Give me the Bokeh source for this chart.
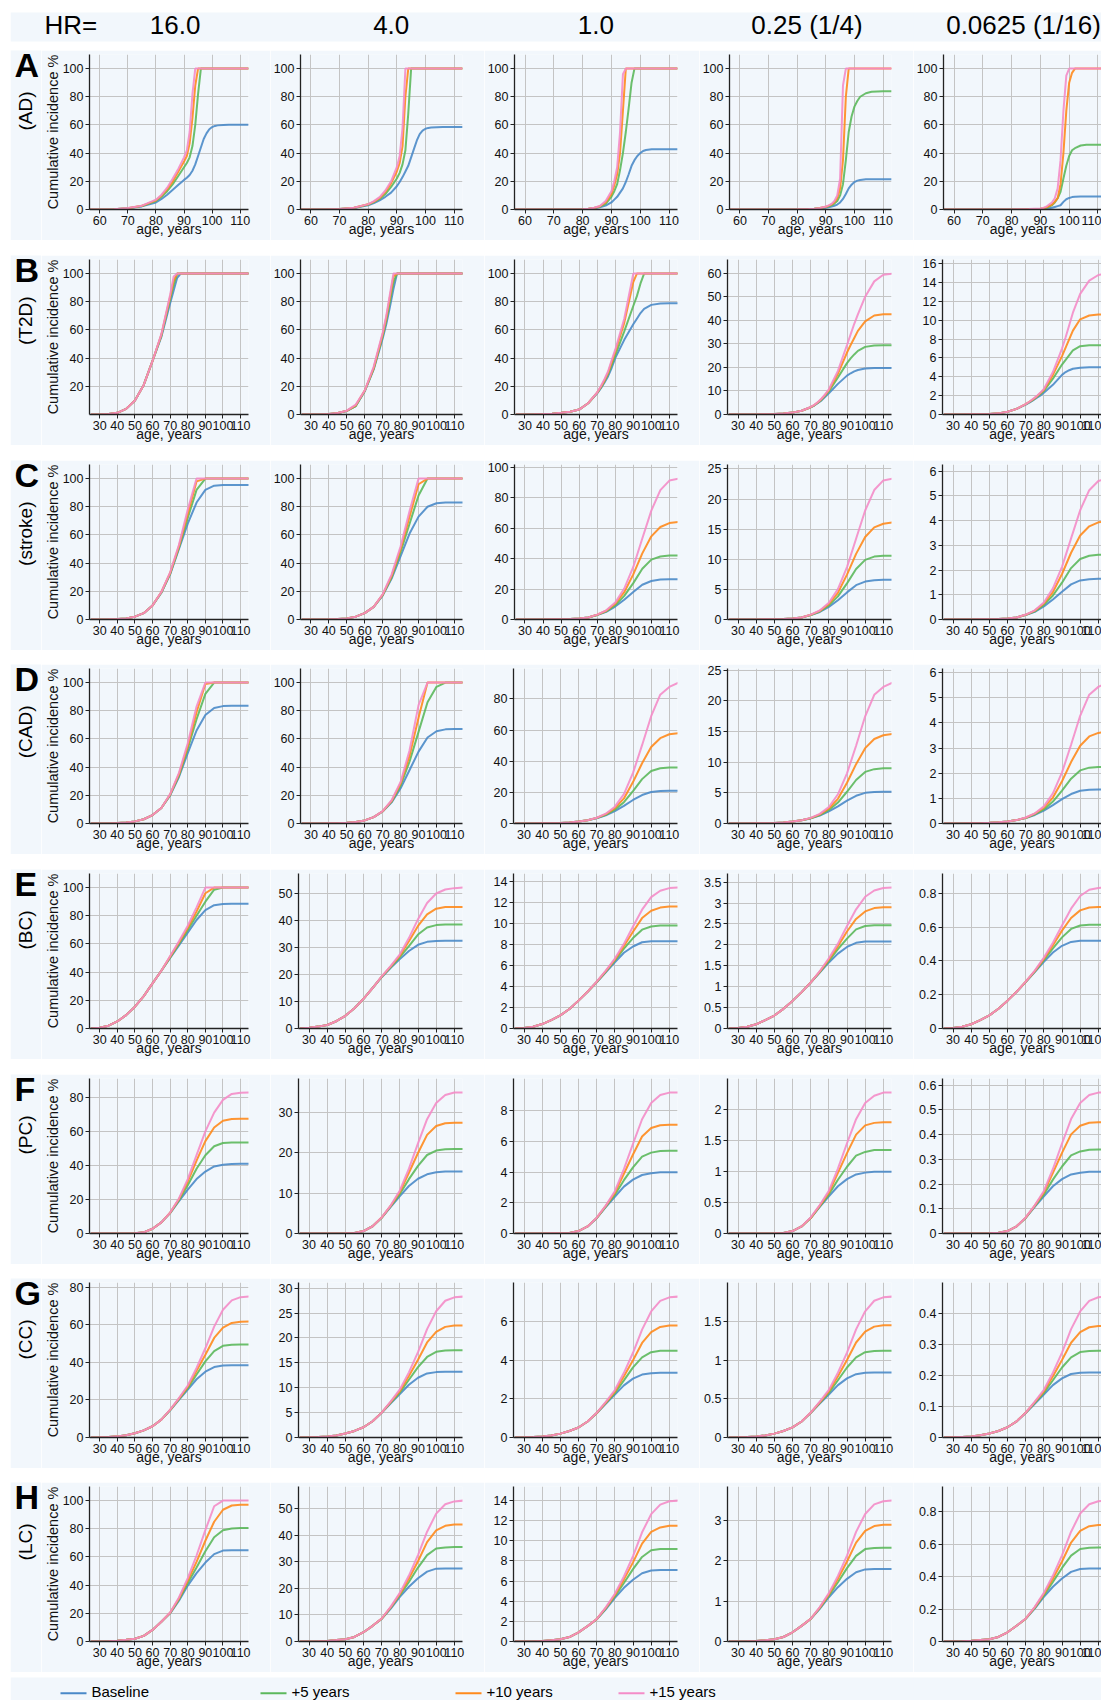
import math
from bokeh.plotting import figure
from bokeh.layouts import column, row
from bokeh.models import Range1d, FixedTicker, CustomJSTickFormatter, Spacer
from bokeh.embed import file_html
from bokeh.resources import INLINE
from bokeh.core.properties import value

# ---------------- labels ----------------
HR_LABELS = ["16.0", "4.0", "1.0", "0.25 (1/4)", "0.0625 (1/16)"]
ROW_LETTERS = ["A", "B", "C", "D", "E", "F", "G", "H"]
ROW_NAMES = ["(AD)", "(T2D)", "(stroke)", "(CAD)", "(BC)", "(PC)", "(CC)", "(LC)"]
SERIES = ["Baseline", "+5 years", "+10 years", "+15 years"]
Y_LABEL = "Cumulative incidence %"
X_LABEL = "age, years"
X_TICKS_AD = [60, 70, 80, 90, 100, 110]
X_TICKS = [30, 40, 50, 60, 70, 80, 90, 100, 110]

# ---------------- data: [Baseline, +5, +10, +15] ----------------
AGES_AD = [56, 60, 65, 70, 75, 80, 82, 84, 86, 88, 90, 91, 92, 93, 94, 95, 96, 97, 98, 99, 100, 101, 102, 104, 106, 110, 113]
AD_HR16 = [
    [0, 0, 0.2, 0.8, 2.2, 5, 7.5, 10.5, 14, 17.5, 21, 22.5, 24.5, 27.5, 32, 38, 44, 50, 54, 57, 58.5, 59.3, 59.7, 60, 60.2, 60.2, 60.2],
    [0, 0, 0.2, 0.9, 2.5, 6, 9, 13, 18, 24, 30, 33, 37, 45, 60, 82, 100, 100, 100, 100, 100, 100, 100, 100, 100, 100, 100],
    [0, 0, 0.2, 0.9, 2.6, 6.5, 10, 14.5, 20, 27, 34, 38, 47, 65, 88, 100, 100, 100, 100, 100, 100, 100, 100, 100, 100, 100, 100],
    [0, 0, 0.2, 1, 2.7, 7, 10.5, 15.5, 22, 29, 37, 42, 55, 82, 100, 100, 100, 100, 100, 100, 100, 100, 100, 100, 100, 100, 100],
]
AD_HR4 = [
    [0, 0, 0, 0.3, 1, 3, 4.5, 6.5, 9, 12, 16.5, 19.5, 23, 27, 31, 37, 43, 49, 53.5, 56, 57.3, 57.9, 58.2, 58.4, 58.5, 58.5, 58.5],
    [0, 0, 0, 0.3, 1.1, 3.5, 5.2, 7.5, 11, 16, 22, 26, 32, 42, 68, 100, 100, 100, 100, 100, 100, 100, 100, 100, 100, 100, 100],
    [0, 0, 0, 0.3, 1.2, 3.7, 5.6, 8.2, 12.5, 18.5, 27, 33, 45, 80, 100, 100, 100, 100, 100, 100, 100, 100, 100, 100, 100, 100, 100],
    [0, 0, 0, 0.3, 1.2, 3.8, 5.9, 8.8, 13.5, 20, 30, 38, 58, 100, 100, 100, 100, 100, 100, 100, 100, 100, 100, 100, 100, 100, 100],
]
AD_HR1 = [
    [0, 0, 0, 0, 0, 0.2, 0.4, 0.9, 1.6, 2.8, 5, 7, 9, 12, 15, 19.5, 25, 31, 35, 38, 40, 41.5, 42.2, 42.7, 42.8, 42.8, 42.8],
    [0, 0, 0, 0, 0, 0.2, 0.5, 1, 2, 4, 9, 13, 18, 28, 40, 55, 72, 90, 100, 100, 100, 100, 100, 100, 100, 100, 100],
    [0, 0, 0, 0, 0, 0.2, 0.5, 1.1, 2.3, 5, 11, 17, 25, 40, 70, 100, 100, 100, 100, 100, 100, 100, 100, 100, 100, 100, 100],
    [0, 0, 0, 0, 0, 0.2, 0.5, 1.2, 2.5, 6, 13, 20, 30, 55, 96, 100, 100, 100, 100, 100, 100, 100, 100, 100, 100, 100, 100],
]
AD_HR1_4 = [
    [0, 0, 0, 0, 0, 0.1, 0.2, 0.3, 0.5, 0.8, 1.2, 1.6, 2.1, 2.7, 3.5, 5, 7.5, 11, 15, 17.6, 19.5, 20.5, 21, 21.4, 21.5, 21.5, 21.5],
    [0, 0, 0, 0, 0, 0.1, 0.2, 0.3, 0.6, 1, 1.7, 2.3, 3, 4.2, 6, 10, 18, 35, 55, 66, 73, 77, 80, 82.5, 83.5, 84, 84],
    [0, 0, 0, 0, 0, 0.1, 0.2, 0.3, 0.6, 1.1, 2, 2.7, 3.6, 5.2, 8, 15, 35, 80, 100, 100, 100, 100, 100, 100, 100, 100, 100],
    [0, 0, 0, 0, 0, 0.1, 0.2, 0.3, 0.6, 1.1, 2.1, 2.9, 4, 6, 10, 22, 88, 100, 100, 100, 100, 100, 100, 100, 100, 100, 100],
]
AD_HR1_16 = [
    [0, 0, 0, 0, 0, 0, 0, 0.1, 0.15, 0.2, 0.3, 0.4, 0.6, 0.9, 1.2, 1.8, 2.4, 3, 5.4, 7.3, 8.2, 8.8, 9, 9.2, 9.3, 9.3, 9.3],
    [0, 0, 0, 0, 0, 0, 0.1, 0.2, 0.3, 0.4, 0.5, 0.7, 1, 2, 3, 5, 8, 12.5, 22, 31, 38, 42, 43.5, 45.4, 46, 46, 46],
    [0, 0, 0, 0, 0, 0, 0.1, 0.2, 0.3, 0.4, 0.6, 0.9, 1.5, 2.5, 3.5, 5.5, 8, 18, 40, 70, 90, 97, 100, 100, 100, 100, 100],
    [0, 0, 0, 0, 0, 0, 0.1, 0.2, 0.3, 0.5, 0.7, 1.1, 2, 3.5, 5, 8, 15, 35, 70, 95, 100, 100, 100, 100, 100, 100, 100],
]

AGES_T2D = [25, 30, 35, 40, 45, 50, 55, 60, 65, 70, 72, 74, 76, 78, 80, 85, 90, 92, 94, 96, 100, 105, 110, 115]
T2D_HR16 = [
    [0, 0, 0.3, 1.2, 4, 10, 21, 38, 55, 79, 88, 97, 100, 100, 100, 100, 100, 100, 100, 100, 100, 100, 100, 100],
    [0, 0, 0.3, 1.2, 4, 10, 21, 38, 56, 82, 92, 100, 100, 100, 100, 100, 100, 100, 100, 100, 100, 100, 100, 100],
    [0, 0, 0.3, 1.2, 4, 10, 21, 38, 56.5, 83.5, 95, 100, 100, 100, 100, 100, 100, 100, 100, 100, 100, 100, 100, 100],
    [0, 0, 0.3, 1.2, 4, 10, 21, 38, 57, 85, 98, 100, 100, 100, 100, 100, 100, 100, 100, 100, 100, 100, 100, 100],
]
T2D_HR4 = [
    [0, 0, 0, 0.3, 1, 2.5, 6, 16.5, 32, 54, 64, 76, 89, 100, 100, 100, 100, 100, 100, 100, 100, 100, 100, 100],
    [0, 0, 0, 0.3, 1, 2.5, 6, 16.5, 32.5, 55.5, 66.5, 80, 94, 100, 100, 100, 100, 100, 100, 100, 100, 100, 100, 100],
    [0, 0, 0, 0.3, 1, 2.6, 6.5, 17, 33, 57, 68.5, 83, 98, 100, 100, 100, 100, 100, 100, 100, 100, 100, 100, 100],
    [0, 0, 0, 0.3, 1, 2.7, 7, 17, 34, 58, 70, 85, 100, 100, 100, 100, 100, 100, 100, 100, 100, 100, 100, 100],
]
T2D_HR1 = [
    [0, 0, 0.1, 0.3, 0.6, 1.2, 2, 3.5, 8, 15, 18.5, 22.5, 27, 33, 40, 53, 64, 68, 72, 75, 77.8, 78.7, 79, 79],
    [0, 0, 0.1, 0.3, 0.6, 1.2, 2, 3.5, 8, 15.3, 19, 23.5, 28.5, 35, 42, 59, 77, 84, 93, 100, 100, 100, 100, 100],
    [0, 0, 0.1, 0.3, 0.6, 1.2, 2, 3.5, 8, 15.5, 19.5, 24, 29.5, 37, 44.5, 65, 94, 100, 100, 100, 100, 100, 100, 100],
    [0, 0, 0.1, 0.3, 0.6, 1.2, 2, 3.5, 8, 15.6, 20, 25, 30.5, 38.5, 46, 68, 100, 100, 100, 100, 100, 100, 100, 100],
]
T2D_HR1_4 = [
    [0, 0, 0, 0.05, 0.1, 0.2, 0.4, 0.8, 1.6, 3, 3.8, 4.9, 6, 7.5, 9, 13, 16.5, 17.5, 18.3, 18.9, 19.5, 19.7, 19.7, 19.7],
    [0, 0, 0, 0.05, 0.1, 0.2, 0.4, 0.8, 1.6, 3.1, 3.9, 5, 6.3, 8, 9.8, 15.7, 21.8, 23.8, 25.5, 27, 28.7, 29.3, 29.4, 29.4],
    [0, 0, 0, 0.05, 0.1, 0.2, 0.4, 0.8, 1.6, 3.1, 4, 5.2, 6.6, 8.3, 10.3, 17.3, 26.3, 29.5, 32.5, 35.5, 39.5, 42, 42.5, 42.5],
    [0, 0, 0, 0.05, 0.1, 0.2, 0.4, 0.8, 1.6, 3.2, 4.1, 5.3, 6.8, 8.6, 10.7, 18.5, 29.5, 34, 38.5, 42.5, 50, 56.5, 59.3, 59.8],
]
T2D_HR1_16 = [
    [0, 0, 0, 0.02, 0.03, 0.05, 0.12, 0.3, 0.6, 1.05, 1.25, 1.5, 1.75, 2, 2.3, 3.15, 4.2, 4.5, 4.7, 4.85, 4.97, 5, 5, 5],
    [0, 0, 0, 0.02, 0.03, 0.05, 0.12, 0.3, 0.6, 1.07, 1.3, 1.55, 1.85, 2.15, 2.5, 3.8, 5.3, 5.8, 6.3, 6.8, 7.25, 7.35, 7.35, 7.35],
    [0, 0, 0, 0.02, 0.03, 0.05, 0.12, 0.3, 0.6, 1.1, 1.35, 1.6, 1.9, 2.25, 2.6, 4.2, 6.2, 7.1, 8, 8.9, 10.1, 10.5, 10.6, 10.6],
    [0, 0, 0, 0.02, 0.03, 0.05, 0.12, 0.3, 0.6, 1.1, 1.35, 1.65, 1.95, 2.3, 2.7, 4.5, 7, 8.2, 9.5, 10.8, 12.8, 14.2, 14.8, 14.95],
]

AGES = [25, 30, 35, 40, 45, 50, 55, 60, 65, 70, 75, 80, 85, 90, 95, 100, 105, 110, 115]
STROKE_HR16 = [
    [0, 0, 0.1, 0.3, 0.8, 2, 4.5, 10, 19, 32, 50, 68, 83, 92, 95, 95.5, 95.5, 95.5, 95.5],
    [0, 0, 0.1, 0.3, 0.8, 2, 4.5, 10, 19, 32.5, 51, 72, 92, 100, 100, 100, 100, 100, 100],
    [0, 0, 0.1, 0.3, 0.8, 2, 4.5, 10, 19.5, 33, 52, 75, 98, 100, 100, 100, 100, 100, 100],
    [0, 0, 0.1, 0.3, 0.8, 2, 4.5, 10, 19.5, 33.5, 53, 78, 100, 100, 100, 100, 100, 100, 100],
]
STROKE_HR4 = [
    [0, 0, 0, 0.1, 0.3, 0.8, 2, 4.5, 9, 17, 29, 45, 61, 73, 80, 82.5, 83, 83, 83],
    [0, 0, 0, 0.1, 0.3, 0.8, 2, 4.5, 9, 17.3, 30, 48, 68, 88, 100, 100, 100, 100, 100],
    [0, 0, 0, 0.1, 0.3, 0.8, 2, 4.5, 9, 17.6, 31, 50, 73, 96, 100, 100, 100, 100, 100],
    [0, 0, 0, 0.1, 0.3, 0.8, 2, 4.5, 9, 17.9, 32, 52, 77, 100, 100, 100, 100, 100, 100],
]
STROKE_HR1 = [
    [0, 0, 0, 0.05, 0.1, 0.16, 0.32, 0.58, 1.3, 2.9, 5, 8.5, 13, 18, 22.8, 25.3, 26.2, 26.5, 26.5],
    [0, 0, 0, 0.05, 0.1, 0.16, 0.32, 0.58, 1.3, 3, 5.3, 9.4, 15.5, 23.9, 33.3, 39.3, 41.4, 42, 42],
    [0, 0, 0, 0.05, 0.1, 0.16, 0.32, 0.58, 1.3, 3.1, 5.75, 10.4, 17.9, 29.6, 43.4, 54.6, 60.7, 63.3, 64],
    [0, 0, 0, 0.05, 0.1, 0.16, 0.32, 0.58, 1.3, 3.2, 6, 11.1, 20.3, 34.5, 53.2, 71.5, 84.9, 91.2, 92.5],
]
STROKE_HR1_4 = [
    [0, 0, 0, 0.01, 0.03, 0.04, 0.08, 0.15, 0.33, 0.73, 1.25, 2.1, 3.2, 4.5, 5.7, 6.3, 6.53, 6.6, 6.6],
    [0, 0, 0, 0.01, 0.03, 0.04, 0.08, 0.15, 0.33, 0.75, 1.33, 2.34, 3.84, 6, 8.4, 9.9, 10.45, 10.6, 10.6],
    [0, 0, 0, 0.01, 0.03, 0.04, 0.08, 0.15, 0.33, 0.78, 1.44, 2.58, 4.44, 7.45, 10.9, 13.7, 15.3, 15.9, 16.1],
    [0, 0, 0, 0.01, 0.03, 0.04, 0.08, 0.15, 0.33, 0.81, 1.5, 2.77, 5.05, 8.7, 13.4, 18.1, 21.5, 23.1, 23.4],
]
STROKE_HR1_16 = [
    [0, 0, 0, 0.003, 0.007, 0.01, 0.02, 0.036, 0.083, 0.18, 0.31, 0.53, 0.81, 1.12, 1.42, 1.58, 1.63, 1.65, 1.65],
    [0, 0, 0, 0.003, 0.007, 0.01, 0.02, 0.036, 0.083, 0.19, 0.33, 0.59, 0.97, 1.49, 2.08, 2.45, 2.58, 2.62, 2.62],
    [0, 0, 0, 0.003, 0.007, 0.01, 0.02, 0.036, 0.083, 0.19, 0.36, 0.65, 1.11, 1.84, 2.7, 3.4, 3.77, 3.93, 3.98],
    [0, 0, 0, 0.003, 0.007, 0.01, 0.02, 0.036, 0.083, 0.2, 0.37, 0.69, 1.26, 2.13, 3.28, 4.42, 5.23, 5.6, 5.7],
]

CAD_HR16 = [
    [0, 0, 0, 0.3, 0.7, 1.5, 3, 6, 11, 20, 33, 50, 66, 77, 82, 83.3, 83.5, 83.5, 83.5],
    [0, 0, 0, 0.3, 0.7, 1.5, 3, 6, 11, 20.3, 34, 53, 74, 92, 100, 100, 100, 100, 100],
    [0, 0, 0, 0.3, 0.7, 1.5, 3, 6, 11, 20.6, 35, 55, 79, 99, 100, 100, 100, 100, 100],
    [0, 0, 0, 0.3, 0.7, 1.5, 3, 6, 11, 20.9, 36, 57, 83, 100, 100, 100, 100, 100, 100],
]
CAD_HR4 = [
    [0, 0, 0, 0.1, 0.2, 0.5, 1, 2.2, 4.5, 8.5, 15, 25, 38, 51, 61, 65.5, 66.8, 67, 67],
    [0, 0, 0, 0.1, 0.2, 0.5, 1, 2.2, 4.5, 8.6, 15.5, 27, 44, 65, 86, 97, 100, 100, 100],
    [0, 0, 0, 0.1, 0.2, 0.5, 1, 2.2, 4.5, 8.7, 16, 28.5, 48, 75, 100, 100, 100, 100, 100],
    [0, 0, 0, 0.1, 0.2, 0.5, 1, 2.2, 4.5, 8.8, 16.5, 29.5, 52, 84, 100, 100, 100, 100, 100],
]
CAD_HR1 = [
    [0, 0, 0, 0.1, 0.2, 0.4, 0.7, 1.3, 2.1, 3.4, 5.3, 8, 11.3, 15.1, 18.3, 20.2, 20.8, 21, 21],
    [0, 0, 0, 0.1, 0.2, 0.4, 0.7, 1.3, 2.1, 3.5, 5.6, 8.9, 13.7, 20.8, 28.5, 33.7, 35.5, 36, 36],
    [0, 0, 0, 0.1, 0.2, 0.4, 0.7, 1.3, 2.1, 3.6, 6, 9.9, 16.1, 26.6, 38.7, 49.1, 54.8, 57.3, 58],
    [0, 0, 0, 0.1, 0.2, 0.4, 0.7, 1.3, 2.1, 3.7, 6.3, 10.8, 18.9, 32.5, 50.3, 68.9, 82.7, 87.7, 90.5],
]
CAD_HR1_4 = [
    [0, 0, 0, 0.03, 0.05, 0.1, 0.18, 0.31, 0.52, 0.83, 1.3, 1.98, 2.81, 3.74, 4.52, 5, 5.15, 5.2, 5.2],
    [0, 0, 0, 0.03, 0.05, 0.1, 0.18, 0.31, 0.52, 0.85, 1.38, 2.21, 3.42, 5.18, 7.1, 8.42, 8.87, 9, 9],
    [0, 0, 0, 0.03, 0.05, 0.1, 0.18, 0.31, 0.52, 0.88, 1.49, 2.45, 4.03, 6.65, 9.69, 12.3, 13.8, 14.4, 14.6],
    [0, 0, 0, 0.03, 0.05, 0.1, 0.18, 0.31, 0.52, 0.92, 1.57, 2.69, 4.77, 8.19, 12.7, 17.5, 21, 22.3, 23],
]
CAD_HR1_16 = [
    [0, 0, 0, 0.007, 0.014, 0.027, 0.047, 0.081, 0.135, 0.22, 0.34, 0.51, 0.73, 0.97, 1.17, 1.3, 1.34, 1.35, 1.35],
    [0, 0, 0, 0.007, 0.014, 0.027, 0.047, 0.081, 0.135, 0.22, 0.36, 0.56, 0.87, 1.31, 1.78, 2.11, 2.22, 2.25, 2.25],
    [0, 0, 0, 0.007, 0.014, 0.027, 0.047, 0.081, 0.135, 0.23, 0.39, 0.63, 1.03, 1.68, 2.44, 3.09, 3.46, 3.6, 3.65],
    [0, 0, 0, 0.007, 0.014, 0.027, 0.047, 0.081, 0.135, 0.24, 0.4, 0.68, 1.2, 2.03, 3.13, 4.28, 5.12, 5.43, 5.6],
]

BC_HR16 = [
    [0, 0.5, 2, 5, 9.5, 15.5, 23, 32, 41, 50, 59, 68, 77, 84, 87.5, 88.3, 88.5, 88.5, 88.5],
    [0, 0.5, 2, 5, 9.5, 15.5, 23, 32, 41, 50.5, 60, 70, 80, 90, 98.5, 100, 100, 100, 100],
    [0, 0.5, 2, 5, 9.5, 15.5, 23, 32, 41, 51, 61, 71.5, 83, 96, 100, 100, 100, 100, 100],
    [0, 0.5, 2, 5, 9.5, 15.5, 23, 32, 41, 51.5, 62, 73, 86, 100, 100, 100, 100, 100, 100],
]
BC_HR4 = [
    [0, 0.3, 0.7, 1.3, 2.7, 4.7, 7.5, 11, 15, 19, 22.5, 25.7, 28.7, 31, 32.1, 32.4, 32.5, 32.5, 32.5],
    [0, 0.3, 0.7, 1.3, 2.7, 4.7, 7.5, 11, 15, 19.1, 22.8, 26.4, 30.5, 34.8, 37.4, 38.3, 38.5, 38.5, 38.5],
    [0, 0.3, 0.7, 1.3, 2.7, 4.7, 7.5, 11, 15, 19.2, 23, 27, 32.3, 38, 42.3, 44.4, 45, 45, 45],
    [0, 0.3, 0.7, 1.3, 2.7, 4.7, 7.5, 11, 15, 19.3, 23.2, 27.5, 33.5, 40.5, 46.5, 50, 51.5, 52, 52.2],
]
BC_HR1 = [
    [0, 0.05, 0.17, 0.42, 0.8, 1.25, 1.85, 2.65, 3.5, 4.4, 5.35, 6.3, 7.2, 7.8, 8.2, 8.3, 8.3, 8.3, 8.3],
    [0, 0.05, 0.17, 0.42, 0.8, 1.25, 1.85, 2.65, 3.5, 4.42, 5.4, 6.45, 7.6, 8.6, 9.4, 9.7, 9.8, 9.8, 9.8],
    [0, 0.05, 0.17, 0.42, 0.8, 1.25, 1.85, 2.65, 3.5, 4.43, 5.45, 6.55, 7.85, 9.2, 10.5, 11.2, 11.5, 11.6, 11.6],
    [0, 0.05, 0.17, 0.42, 0.8, 1.25, 1.85, 2.65, 3.5, 4.45, 5.5, 6.65, 8.05, 9.7, 11.3, 12.5, 13.1, 13.35, 13.4],
]
BC_HR1_4 = [
    [0, 0.01, 0.04, 0.1, 0.2, 0.31, 0.47, 0.66, 0.87, 1.1, 1.34, 1.58, 1.79, 1.95, 2.05, 2.08, 2.08, 2.08, 2.08],
    [0, 0.01, 0.04, 0.1, 0.2, 0.31, 0.47, 0.66, 0.87, 1.1, 1.35, 1.62, 1.9, 2.15, 2.37, 2.45, 2.47, 2.47, 2.47],
    [0, 0.01, 0.04, 0.1, 0.2, 0.31, 0.47, 0.66, 0.87, 1.1, 1.36, 1.65, 1.97, 2.32, 2.62, 2.8, 2.88, 2.9, 2.9],
    [0, 0.01, 0.04, 0.1, 0.2, 0.31, 0.47, 0.66, 0.87, 1.1, 1.37, 1.68, 2.03, 2.45, 2.85, 3.15, 3.3, 3.36, 3.37],
]
BC_HR1_16 = [
    [0, 0.003, 0.01, 0.025, 0.05, 0.078, 0.117, 0.165, 0.218, 0.275, 0.335, 0.395, 0.45, 0.49, 0.513, 0.52, 0.52, 0.52, 0.52],
    [0, 0.003, 0.01, 0.025, 0.05, 0.078, 0.117, 0.165, 0.218, 0.276, 0.337, 0.405, 0.475, 0.54, 0.59, 0.61, 0.615, 0.615, 0.615],
    [0, 0.003, 0.01, 0.025, 0.05, 0.078, 0.117, 0.165, 0.218, 0.277, 0.34, 0.412, 0.493, 0.58, 0.655, 0.7, 0.717, 0.72, 0.72],
    [0, 0.003, 0.01, 0.025, 0.05, 0.078, 0.117, 0.165, 0.218, 0.278, 0.343, 0.42, 0.508, 0.61, 0.71, 0.785, 0.822, 0.833, 0.835],
]

PC_HR16 = [
    [0, 0, 0, 0, 0.05, 0.2, 0.7, 2.8, 6.5, 12, 19, 25.8, 32, 36.4, 39.4, 40.4, 40.9, 41, 41],
    [0, 0, 0, 0, 0.05, 0.2, 0.7, 2.8, 6.5, 12.1, 19.6, 28.3, 38, 46, 51.3, 53.2, 53.5, 53.5, 53.5],
    [0, 0, 0, 0, 0.05, 0.2, 0.7, 2.8, 6.5, 12.2, 20.2, 30.5, 42.8, 54.3, 62.3, 66.3, 67.3, 67.5, 67.5],
    [0, 0, 0, 0, 0.05, 0.2, 0.7, 2.8, 6.5, 12.3, 20.6, 32, 46, 60, 71, 78.5, 82, 82.7, 82.8],
]
PC_HR4 = [
    [0, 0, 0, 0, 0.03, 0.06, 0.15, 0.6, 1.8, 3.9, 6.6, 9.3, 11.8, 13.6, 14.7, 15.2, 15.4, 15.4, 15.4],
    [0, 0, 0, 0, 0.03, 0.06, 0.15, 0.6, 1.8, 3.93, 6.77, 9.8, 13.5, 16.8, 19.5, 20.6, 20.95, 21, 21],
    [0, 0, 0, 0, 0.03, 0.06, 0.15, 0.6, 1.8, 3.96, 6.9, 10.3, 15.1, 20, 24.5, 26.7, 27.4, 27.5, 27.5],
    [0, 0, 0, 0, 0.03, 0.06, 0.15, 0.6, 1.8, 4, 7, 10.7, 16.1, 22.4, 28.4, 32.4, 34.4, 35, 35],
]
PC_HR1 = [
    [0, 0, 0, 0, 0.01, 0.02, 0.04, 0.16, 0.46, 1, 1.72, 2.4, 3.06, 3.52, 3.82, 3.94, 4, 4, 4],
    [0, 0, 0, 0, 0.01, 0.02, 0.04, 0.16, 0.46, 1.01, 1.76, 2.53, 3.48, 4.32, 5.02, 5.28, 5.39, 5.4, 5.4],
    [0, 0, 0, 0, 0.01, 0.02, 0.04, 0.16, 0.46, 1.02, 1.8, 2.65, 3.9, 5.16, 6.33, 6.89, 7.07, 7.1, 7.1],
    [0, 0, 0, 0, 0.01, 0.02, 0.04, 0.16, 0.46, 1.03, 1.82, 2.76, 4.2, 5.86, 7.46, 8.52, 9.04, 9.2, 9.2],
]
PC_HR1_4 = [
    [0, 0, 0, 0, 0.002, 0.004, 0.01, 0.04, 0.115, 0.25, 0.43, 0.6, 0.765, 0.88, 0.955, 0.985, 1, 1, 1],
    [0, 0, 0, 0, 0.002, 0.004, 0.01, 0.04, 0.115, 0.25, 0.44, 0.63, 0.87, 1.08, 1.26, 1.32, 1.35, 1.35, 1.35],
    [0, 0, 0, 0, 0.002, 0.004, 0.01, 0.04, 0.115, 0.25, 0.45, 0.66, 0.98, 1.3, 1.6, 1.75, 1.79, 1.8, 1.8],
    [0, 0, 0, 0, 0.002, 0.004, 0.01, 0.04, 0.115, 0.26, 0.46, 0.69, 1.05, 1.46, 1.85, 2.11, 2.23, 2.28, 2.28],
]
PC_HR1_16 = [
    [0, 0, 0, 0, 0, 0.001, 0.003, 0.01, 0.029, 0.063, 0.108, 0.15, 0.191, 0.22, 0.239, 0.246, 0.25, 0.25, 0.25],
    [0, 0, 0, 0, 0, 0.001, 0.003, 0.01, 0.029, 0.063, 0.111, 0.158, 0.218, 0.271, 0.316, 0.332, 0.339, 0.34, 0.34],
    [0, 0, 0, 0, 0, 0.001, 0.003, 0.01, 0.029, 0.064, 0.113, 0.166, 0.245, 0.326, 0.401, 0.436, 0.448, 0.45, 0.45],
    [0, 0, 0, 0, 0, 0.001, 0.003, 0.01, 0.029, 0.065, 0.114, 0.172, 0.261, 0.364, 0.463, 0.528, 0.56, 0.57, 0.57],
]

CC_HR16 = [
    [0, 0.1, 0.3, 0.6, 1.2, 2.3, 3.8, 6, 9.5, 14.5, 20, 25.5, 31, 35, 37.5, 38.3, 38.5, 38.5, 38.5],
    [0, 0.1, 0.3, 0.6, 1.2, 2.3, 3.8, 6, 9.5, 14.6, 20.4, 26.3, 33.5, 40.5, 46, 48.8, 49.4, 49.5, 49.5],
    [0, 0.1, 0.3, 0.6, 1.2, 2.3, 3.8, 6, 9.5, 14.7, 20.7, 27, 35.5, 44, 53, 58.5, 61, 61.6, 61.7],
    [0, 0.1, 0.3, 0.6, 1.2, 2.3, 3.8, 6, 9.5, 14.8, 21, 27.7, 37, 47.5, 59, 68, 73, 74.7, 75],
]
CC_HR4 = [
    [0, 0.04, 0.1, 0.21, 0.41, 0.79, 1.32, 2.06, 3.26, 4.98, 6.86, 8.74, 10.6, 12, 12.86, 13.13, 13.2, 13.2, 13.2],
    [0, 0.04, 0.1, 0.21, 0.41, 0.79, 1.32, 2.06, 3.26, 5, 7.03, 9.04, 11.6, 14.15, 16.17, 17.2, 17.45, 17.5, 17.5],
    [0, 0.04, 0.1, 0.21, 0.41, 0.79, 1.32, 2.06, 3.26, 5, 7.14, 9.34, 12.37, 15.63, 19.09, 21.22, 22.22, 22.5, 22.5],
    [0, 0.04, 0.1, 0.21, 0.41, 0.79, 1.32, 2.06, 3.26, 5, 7.27, 9.65, 13.08, 17.13, 21.77, 25.36, 27.47, 28.15, 28.3],
]
CC_HR1 = [
    [0, 0.01, 0.027, 0.054, 0.1, 0.2, 0.335, 0.52, 0.83, 1.26, 1.74, 2.22, 2.7, 3.05, 3.26, 3.33, 3.35, 3.35, 3.35],
    [0, 0.01, 0.027, 0.054, 0.1, 0.2, 0.335, 0.52, 0.83, 1.27, 1.79, 2.3, 2.96, 3.63, 4.15, 4.42, 4.49, 4.5, 4.5],
    [0, 0.01, 0.027, 0.054, 0.1, 0.2, 0.335, 0.52, 0.83, 1.27, 1.81, 2.38, 3.17, 4, 4.9, 5.46, 5.73, 5.8, 5.8],
    [0, 0.01, 0.027, 0.054, 0.1, 0.2, 0.335, 0.52, 0.83, 1.28, 1.85, 2.46, 3.35, 4.39, 5.59, 6.53, 7.08, 7.26, 7.3],
]
CC_HR1_4 = [
    [0, 0.003, 0.007, 0.013, 0.026, 0.05, 0.084, 0.131, 0.207, 0.317, 0.437, 0.556, 0.676, 0.764, 0.818, 0.836, 0.84, 0.84, 0.84],
    [0, 0.003, 0.007, 0.013, 0.026, 0.05, 0.084, 0.131, 0.207, 0.318, 0.448, 0.576, 0.74, 0.904, 1.034, 1.102, 1.117, 1.12, 1.12],
    [0, 0.003, 0.007, 0.013, 0.026, 0.05, 0.084, 0.131, 0.207, 0.32, 0.455, 0.596, 0.792, 1, 1.227, 1.367, 1.432, 1.45, 1.45],
    [0, 0.003, 0.007, 0.013, 0.026, 0.05, 0.084, 0.131, 0.207, 0.322, 0.463, 0.615, 0.837, 1.097, 1.396, 1.63, 1.766, 1.81, 1.82],
]
CC_HR1_16 = [
    [0, 0.001, 0.002, 0.003, 0.007, 0.013, 0.021, 0.033, 0.052, 0.079, 0.109, 0.139, 0.169, 0.191, 0.205, 0.209, 0.21, 0.21, 0.21],
    [0, 0.001, 0.002, 0.003, 0.007, 0.013, 0.021, 0.033, 0.052, 0.08, 0.112, 0.144, 0.185, 0.226, 0.259, 0.276, 0.279, 0.28, 0.28],
    [0, 0.001, 0.002, 0.003, 0.007, 0.013, 0.021, 0.033, 0.052, 0.08, 0.114, 0.149, 0.198, 0.25, 0.306, 0.34, 0.356, 0.36, 0.36],
    [0, 0.001, 0.002, 0.003, 0.007, 0.013, 0.021, 0.033, 0.052, 0.08, 0.116, 0.154, 0.209, 0.274, 0.35, 0.407, 0.441, 0.453, 0.455],
]

LC_HR16 = [
    [0, 0, 0.1, 0.5, 1.2, 2, 4, 8.2, 14, 20, 29, 39.7, 48.5, 56, 62, 64.5, 64.7, 64.7, 64.7],
    [0, 0, 0.1, 0.5, 1.2, 2, 4, 8.2, 14, 20.2, 29.8, 41.5, 52.5, 64, 74, 79, 80.2, 80.5, 80.5],
    [0, 0, 0.1, 0.5, 1.2, 2, 4, 8.2, 14, 20.4, 30.5, 43.2, 56.5, 71.5, 85, 93.5, 96.5, 97, 97],
    [0, 0, 0.1, 0.5, 1.2, 2, 4, 8.2, 14, 20.6, 31.2, 45, 61, 79, 96, 100, 100, 100, 100],
]
LC_HR4 = [
    [0, 0, 0.05, 0.22, 0.52, 0.85, 1.7, 3.5, 5.9, 8.5, 12.4, 16.8, 20.6, 23.8, 26.3, 27.4, 27.5, 27.5, 27.5],
    [0, 0, 0.05, 0.22, 0.52, 0.85, 1.7, 3.5, 5.9, 8.55, 12.7, 17.4, 22.4, 27.8, 32.5, 35, 35.4, 35.5, 35.5],
    [0, 0, 0.05, 0.22, 0.52, 0.85, 1.7, 3.5, 5.9, 8.6, 12.9, 17.9, 23.7, 30.2, 37.4, 41.8, 43.5, 44, 44],
    [0, 0, 0.05, 0.22, 0.52, 0.85, 1.7, 3.5, 5.9, 8.65, 13.1, 18.3, 24.8, 32.5, 41.3, 48.1, 51.6, 52.7, 53],
]
LC_HR1 = [
    [0, 0, 0.01, 0.06, 0.13, 0.22, 0.44, 0.9, 1.53, 2.2, 3.2, 4.33, 5.33, 6.14, 6.78, 7.06, 7.1, 7.1, 7.1],
    [0, 0, 0.01, 0.06, 0.13, 0.22, 0.44, 0.9, 1.53, 2.21, 3.28, 4.48, 5.81, 7.19, 8.4, 9.06, 9.18, 9.2, 9.2],
    [0, 0, 0.01, 0.06, 0.13, 0.22, 0.44, 0.9, 1.53, 2.22, 3.33, 4.62, 6.17, 7.86, 9.73, 10.89, 11.33, 11.5, 11.5],
    [0, 0, 0.01, 0.06, 0.13, 0.22, 0.44, 0.9, 1.53, 2.23, 3.39, 4.74, 6.46, 8.49, 10.85, 12.65, 13.6, 13.93, 14],
]
LC_HR1_4 = [
    [0, 0, 0.004, 0.014, 0.034, 0.056, 0.112, 0.229, 0.389, 0.558, 0.81, 1.1, 1.35, 1.557, 1.719, 1.791, 1.8, 1.8, 1.8],
    [0, 0, 0.004, 0.014, 0.034, 0.056, 0.112, 0.229, 0.389, 0.561, 0.831, 1.137, 1.472, 1.822, 2.127, 2.295, 2.325, 2.33, 2.33],
    [0, 0, 0.004, 0.014, 0.034, 0.056, 0.112, 0.229, 0.389, 0.562, 0.843, 1.172, 1.559, 1.986, 2.456, 2.748, 2.867, 2.9, 2.9],
    [0, 0, 0.004, 0.014, 0.034, 0.056, 0.112, 0.229, 0.389, 0.564, 0.856, 1.202, 1.629, 2.135, 2.722, 3.168, 3.407, 3.483, 3.5],
]
LC_HR1_16 = [
    [0, 0, 0.001, 0.004, 0.009, 0.014, 0.028, 0.057, 0.097, 0.14, 0.203, 0.275, 0.338, 0.389, 0.43, 0.448, 0.45, 0.45, 0.45],
    [0, 0, 0.001, 0.004, 0.009, 0.014, 0.028, 0.057, 0.097, 0.141, 0.208, 0.284, 0.368, 0.454, 0.53, 0.571, 0.579, 0.58, 0.58],
    [0, 0, 0.001, 0.004, 0.009, 0.014, 0.028, 0.057, 0.097, 0.141, 0.211, 0.293, 0.389, 0.494, 0.611, 0.683, 0.712, 0.72, 0.72],
    [0, 0, 0.001, 0.004, 0.009, 0.014, 0.028, 0.057, 0.097, 0.142, 0.214, 0.3, 0.407, 0.532, 0.678, 0.79, 0.847, 0.866, 0.87],
]

# y tick values per panel (per row, 5 columns)
T100 = [0, 20, 40, 60, 80, 100]
YTICKS = [
    [T100, T100, T100, T100, T100],
    [[20, 40, 60, 80, 100], T100, T100, [0, 10, 20, 30, 40, 50, 60], [0, 2, 4, 6, 8, 10, 12, 14, 16]],
    [T100, T100, T100, [0, 5, 10, 15, 20, 25], [0, 1, 2, 3, 4, 5, 6]],
    [T100, T100, [0, 20, 40, 60, 80], [0, 5, 10, 15, 20, 25], [0, 1, 2, 3, 4, 5, 6]],
    [T100, [0, 10, 20, 30, 40, 50], [0, 2, 4, 6, 8, 10, 12, 14], [0, 0.5, 1, 1.5, 2, 2.5, 3, 3.5], [0, 0.2, 0.4, 0.6, 0.8]],
    [[0, 20, 40, 60, 80], [0, 10, 20, 30], [0, 2, 4, 6, 8], [0, 0.5, 1, 1.5, 2], [0, 0.1, 0.2, 0.3, 0.4, 0.5, 0.6]],
    [[0, 20, 40, 60, 80], [0, 5, 10, 15, 20, 25, 30], [0, 2, 4, 6], [0, 0.5, 1, 1.5], [0, 0.1, 0.2, 0.3, 0.4]],
    [T100, [0, 10, 20, 30, 40, 50], [0, 2, 4, 6, 8, 10, 12, 14], [0, 1, 2, 3], [0, 0.2, 0.4, 0.6, 0.8]],
]

ROWS = [
    (AGES_AD, [AD_HR16, AD_HR4, AD_HR1, AD_HR1_4, AD_HR1_16]),
    (AGES_T2D, [T2D_HR16, T2D_HR4, T2D_HR1, T2D_HR1_4, T2D_HR1_16]),
    (AGES, [STROKE_HR16, STROKE_HR4, STROKE_HR1, STROKE_HR1_4, STROKE_HR1_16]),
    (AGES, [CAD_HR16, CAD_HR4, CAD_HR1, CAD_HR1_4, CAD_HR1_16]),
    (AGES, [BC_HR16, BC_HR4, BC_HR1, BC_HR1_4, BC_HR1_16]),
    (AGES, [PC_HR16, PC_HR4, PC_HR1, PC_HR1_4, PC_HR1_16]),
    (AGES, [CC_HR16, CC_HR4, CC_HR1, CC_HR1_4, CC_HR1_16]),
    (AGES, [LC_HR16, LC_HR4, LC_HR1, LC_HR1_4, LC_HR1_16]),
]

# ---------------- style / layout ----------------
FONT = "Liberation Sans"
BAND = "#f2f7fc"
WHITE = "#ffffff"
COLORS = ["#4a89c8", "#5cb85c", "#ff8a1c", "#f48cc8"]
ROW_H = 190
GAP_ABOVE = [6, 15, 15, 14, 15, 15, 14, 14]
HEADER_H = 44
HEADER_BAND = (12, 41)          # band top / bottom, px from top of page
LEGEND_H = 28
LEGEND_BAND_H = 23
LABEL_W = 31
FIG_W = [229, 214, 215, 214, 188]
ML = [43, 28, 29, 28, 29]
MR = [22, 22, 22, 22, 0]
FRAME_W = 164
TICK_FS = 12.5
XR_AD = (56.35, 112.95)
XR_OTHER = (24.2, 114.5)
NAME_Y_TOP = 41
HEADER_X = [164.6, 380.7, 585.3, 796.5, 1013]
LEGEND_X = [50, 250, 445, 608]

fmt = CustomJSTickFormatter(code="return String(Math.round(tick*1000)/1000);")


def blank(w, h, fill=BAND):
    f = figure(width=w, height=h, x_range=Range1d(0, w), y_range=Range1d(0, h),
               x_axis_type=None, y_axis_type=None, output_backend="svg",
               toolbar_location=None, min_border=0)
    f.outline_line_color = None
    f.background_fill_color = fill
    f.border_fill_color = fill
    f.grid.visible = False
    return f


def panel(ages, curves, yticks, ci, is_ad):
    x0, x1 = XR_AD if is_ad else XR_OTHER
    fw = FIG_W[ci] - ML[ci] - MR[ci]
    x1 = x0 + (x1 - x0) * fw / FRAME_W
    for c in curves:
        if len(c) != len(ages):
            raise ValueError("length mismatch %d vs %d" % (len(c), len(ages)))
    ymax = 1.1 * max(max(c) for c in curves)
    f = figure(width=FIG_W[ci], height=ROW_H, x_range=Range1d(x0, x1), y_range=Range1d(0, ymax),
               output_backend="svg", toolbar_location=None,
               min_border_left=ML[ci], min_border_right=MR[ci], min_border_top=4, min_border_bottom=31)
    f.outline_line_color = None
    f.background_fill_color = BAND
    f.border_fill_color = BAND
    for c, col in zip(curves, COLORS):
        f.line(ages, c, line_color=col, line_width=2, line_alpha=0.9)
    f.xaxis.ticker = FixedTicker(ticks=X_TICKS_AD if is_ad else X_TICKS)
    f.yaxis.ticker = FixedTicker(ticks=yticks)
    f.xaxis.formatter = fmt
    f.yaxis.formatter = fmt
    for ax in (f.xaxis, f.yaxis):
        ax.major_label_text_font = FONT
        ax.major_label_text_font_size = "%gpx" % TICK_FS
        ax.major_label_text_color = "#111111"
        ax.major_label_standoff = 2
        ax.major_tick_out = 4
        ax.major_tick_in = 0
        ax.major_tick_line_color = "#222222"
        ax.minor_tick_line_color = None
        ax.axis_line_color = "#222222"
        ax.axis_line_width = 1.3
    f.xaxis.axis_label = X_LABEL
    f.xaxis.axis_label_text_font = FONT
    f.xaxis.axis_label_text_font_size = "14px"
    f.xaxis.axis_label_text_font_style = "normal"
    f.xaxis.axis_label_text_color = "#111111"
    f.xaxis.axis_label_standoff = -7
    if ci == 0:
        nchar = max(len("%g" % t) for t in yticks)
        f.yaxis.axis_label = Y_LABEL
        f.yaxis.axis_label_text_font = FONT
        f.yaxis.axis_label_text_font_size = "14.5px"
        f.yaxis.axis_label_text_font_style = "normal"
        f.yaxis.axis_label_text_color = "#111111"
        f.yaxis.axis_label_standoff = int(round(20.3 - 0.556 * TICK_FS * nchar))
    f.xgrid.grid_line_color = "#c4c4c4"
    f.ygrid.grid_line_color = "#c4c4c4"
    return f


def label_fig(letter, name, gap):
    # taller than the band so that the big letter's text box is not clipped
    h = ROW_H + gap
    f = blank(LABEL_W, h, fill=WHITE)
    f.quad(left=[0], right=[LABEL_W], bottom=[0], top=[ROW_H], fill_color=BAND, line_color=None)
    f.text(x=[4], y=[ROW_H - 14.7], text=[letter], text_font=value(FONT), text_font_size="34px",
           text_font_style="bold", text_align="left", text_baseline="middle", text_color="black")
    f.text(x=[14.5], y=[ROW_H - NAME_Y_TOP], text=[name], text_font=value(FONT), text_font_size="19px",
           text_align="right", text_baseline="middle", angle=math.pi / 2, text_color="black")
    return f


# header (white canvas with the light band drawn inside)
header = blank(1091, HEADER_H, fill=WHITE)
header.quad(left=[0], right=[1091], bottom=[HEADER_H - HEADER_BAND[1]], top=[HEADER_H - HEADER_BAND[0]],
            fill_color=BAND, line_color=None)
hy = HEADER_H - 24.5
header.text(x=[34], y=[hy], text=["HR="], text_font=value(FONT), text_font_size="26px",
            text_align="left", text_baseline="middle", text_color="black")
header.text(x=HEADER_X, y=[hy] * 5, text=HR_LABELS, text_font=value(FONT), text_font_size="26px",
            text_align="center", text_baseline="middle", text_color="black")

# legend (white strip above, band at the bottom)
legend = blank(1091, LEGEND_H, fill=WHITE)
legend.quad(left=[0], right=[1091], bottom=[0], top=[LEGEND_BAND_H], fill_color=BAND, line_color=None)
legend.segment(x0=LEGEND_X, y0=[7.3] * 4, x1=[x + 26 for x in LEGEND_X], y1=[7.3] * 4,
               line_color=COLORS, line_width=2)
legend.text(x=[x + 31 for x in LEGEND_X], y=[9.2] * 4, text=SERIES, text_font=value(FONT),
            text_font_size="15px", text_align="left", text_baseline="middle", text_color="black")

items = [row(Spacer(width=10), header)]
for ri, (ages, panels) in enumerate(ROWS):
    gap = GAP_ABOVE[ri]
    figs = [panel(ages, curves, YTICKS[ri][ci], ci, ri == 0) for ci, curves in enumerate(panels)]
    items.append(row(Spacer(width=10), label_fig(ROW_LETTERS[ri], ROW_NAMES[ri], gap),
                     column(Spacer(height=gap), row(*figs))))
items.append(row(Spacer(width=10), legend))

layout = column(*items)
open("out.html", "w").write(file_html(layout, INLINE))
